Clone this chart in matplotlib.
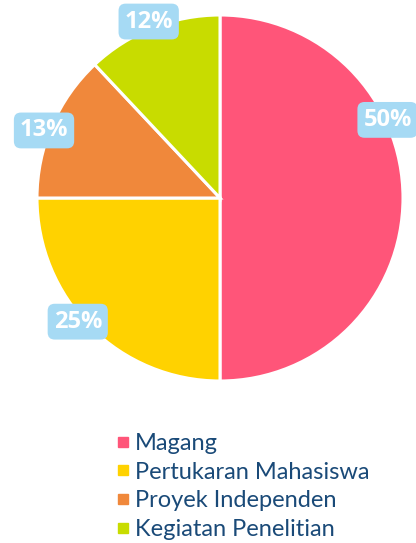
import matplotlib.pyplot as plt
import numpy as np
from matplotlib.lines import Line2D

labels = ["Magang", "Pertukaran Mahasiswa", "Proyek Independen", "Kegiatan Penelitian"]
values = [50, 25, 13, 12]
colors = ["#FF5579", "#FFD200", "#F0883B", "#C8DC00"]
# where the value badges sit (degrees)
label_angles = [25, 221, 159, 112]
label_radius = [1.01, 1.03, 1.03, 1.04]

fig = plt.figure(figsize=(4.16, 5.43), dpi=100)
ax = fig.add_axes([37 / 416, 162 / 543, 366 / 416, 366 / 543])

wedges, _ = ax.pie(
    values,
    colors=colors,
    startangle=90,
    counterclock=False,
    wedgeprops=dict(edgecolor="white", linewidth=2.2),
    radius=1,
)
ax.set_xlim(-1, 1)
ax.set_ylim(-1, 1)
ax.set_aspect("equal")
ax.axis("off")

for v, a, r in zip(values, label_angles, label_radius):
    t = np.deg2rad(a)
    ax.text(
        r * np.cos(t),
        r * np.sin(t),
        f"{v}%",
        ha="center",
        va="center",
        color="white",
        fontsize=17,
        fontweight="bold",
        family="Open Sans",
        clip_on=False,
        bbox=dict(boxstyle="round,pad=0.25,rounding_size=0.3", fc="#A6DAF4", ec="none"),
    )

handles = [
    Line2D([0], [0], marker="s", linestyle="none", markersize=7, markerfacecolor=c, markeredgecolor=c)
    for c in colors
]
fig.legend(
    handles,
    labels,
    loc="upper left",
    bbox_to_anchor=(104 / 416, 1 - 421 / 543),
    frameon=False,
    labelcolor="#1A4A78",
    handlelength=0.6,
    handletextpad=0.2,
    labelspacing=0.33,
    borderpad=0,
    prop={"family": "Lato", "size": 17},
)

fig.savefig("out.png", dpi=100)
